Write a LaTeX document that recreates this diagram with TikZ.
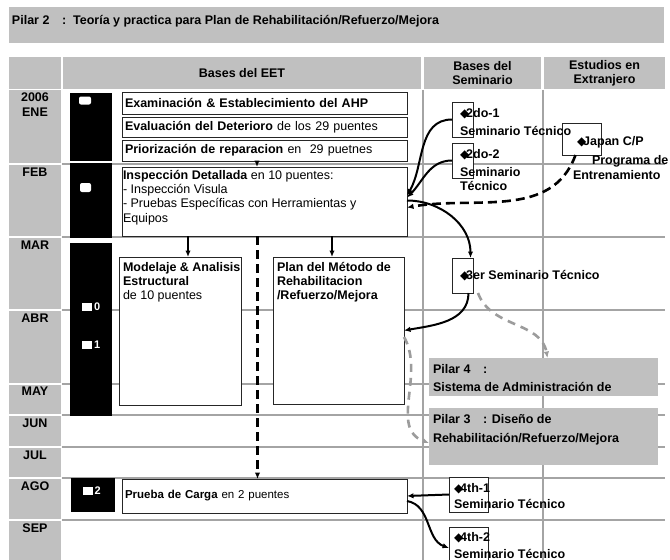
\documentclass[tikz,border=0pt]{standalone}
\usepackage{fontspec}
\setmainfont{Liberation Sans}
\newfontfamily\symfont{DejaVu Sans}
\usetikzlibrary{positioning,arrows.meta}
\definecolor{cellgray}{HTML}{C0C0C0}
\definecolor{rulegray}{HTML}{A4A4A4}
\definecolor{linkgray}{HTML}{9C9C9C}
\newcommand{\dmd}{{\symfont\fontsize{12}{12}\selectfont ◆}\kern-3pt}

\begin{document}
\begin{tikzpicture}[
        x=1pt, y=-1pt,
        every node/.style={font=\fontsize{12.5}{14.3}\selectfont, inner sep=0pt, outer sep=0pt},
        graycell/.style={fill=cellgray, anchor=north west},
        monthtxt/.style={font=\bfseries\fontsize{12.5}{15}\selectfont, align=center},
        headtxt/.style={font=\bfseries\fontsize{12.5}{14}\selectfont, align=center},
        blackbar/.style={fill=black, anchor=north west, minimum width=42pt},
        whitemark/.style={fill=white, minimum width=10pt, minimum height=8pt},
        bardigit/.style={text=white, font=\bfseries\fontsize{11}{11}\selectfont},
        eetbox/.style={draw=black!85, fill=white, line width=0.8pt, anchor=north west, text width=279pt, align=left, inner xsep=3pt},
        semibox/.style={draw=black!85, fill=white, line width=0.8pt, anchor=north west},
        semitxt/.style={font=\bfseries\fontsize{12.5}{14}\selectfont, align=left},
        rowline/.style={rulegray, line width=1.5pt},
        link/.style={line width=2pt, -{Latex[length=6.5pt,width=5.5pt]}},
        dashlink/.style={link, line width=2.6pt, dash pattern=on 9pt off 5pt},
        graylink/.style={link, linkgray, line width=2.6pt, dash pattern=on 8pt off 6pt},
    ]
        \path[use as bounding box, fill=white] (0,0) rectangle (670,560);
        \node[graycell, minimum width=655pt, minimum height=36pt] (titulo) at (9,7) {};
        \node[anchor=west, font=\bfseries\fontsize{12.5}{14}\selectfont] (titulotxt) at (12,21) {Pilar 2\quad :\ \ Teoría y practica para Plan de Rehabilitación/Refuerzo/Mejora};

        \node[graycell, minimum width=52pt, minimum height=32pt] (hmes) at (9,57) {};
        \node[graycell, headtxt, minimum width=358pt, minimum height=32pt] (heet) at (63,57) {Bases del EET};
        \node[graycell, headtxt, minimum width=117pt, minimum height=32pt] (hsem) at (424,57) {Bases del\\Seminario};
        \node[graycell, headtxt, minimum width=121pt, minimum height=32pt] (hext) at (544,57) {Estudios en\\Extranjero};

        \node[graycell, minimum width=52pt, minimum height=73pt] (ene) at (9,90) {};
        \node[monthtxt, below=3pt of ene.north] (enetxt) {2006\\ENE};
        \node[graycell, minimum width=52pt, minimum height=71pt] (feb) at (9,165) {};
        \node[monthtxt, below=3pt of feb.north] (febtxt) {FEB};
        \node[graycell, minimum width=52pt, minimum height=71pt] (mar) at (9,238) {};
        \node[monthtxt, below=3pt of mar.north] (martxt) {MAR};
        \node[graycell, minimum width=52pt, minimum height=72pt] (abr) at (9,311) {};
        \node[monthtxt, below=3pt of abr.north] (abrtxt) {ABR};
        \node[graycell, minimum width=52pt, minimum height=29pt] (may) at (9,385) {};
        \node[monthtxt, below=2pt of may.north] (maytxt) {MAY};
        \node[graycell, minimum width=52pt, minimum height=30pt] (jun) at (9,416) {};
        \node[monthtxt, below=3pt of jun.north] (juntxt) {JUN};
        \node[graycell, minimum width=52pt, minimum height=29pt] (jul) at (9,448) {};
        \node[monthtxt, below=3pt of jul.north] (jultxt) {JUL};
        \node[graycell, minimum width=52pt, minimum height=40pt] (ago) at (9,479) {};
        \node[monthtxt, below=3pt of ago.north] (agotxt) {AGO};
        \node[graycell, minimum width=52pt, minimum height=39pt] (sep) at (9,521) {};
        \node[monthtxt, below=3pt of sep.north] (septxt) {SEP};

        \draw[rowline] (62,164) -- (665,164) (62,237) -- (665,237) (62,310) -- (665,310) (62,384) -- (665,384)
            (62,415) -- (665,415) (62,447) -- (665,447) (62,478) -- (665,478) (62,520) -- (665,520);
        \draw[rowline] (423,90) -- (423,560) (543,90) -- (543,560);

        \node[blackbar, minimum height=68pt] (barene) at (70,93) {};
        \node[blackbar, minimum height=75pt] (barfeb) at (70,163) {};
        \node[blackbar, minimum height=173pt] (barmar) at (70,243) {};
        \node[blackbar, minimum width=44pt, minimum height=34pt] (barago) at (71,478) {};
        \node[whitemark, rounded corners=2pt, minimum width=12pt] (markene) at (85,100.5) {};
        \node[whitemark, rounded corners=2pt, minimum width=11pt, minimum height=9pt] (markfeb) at (85.5,187.5) {};
        \node[whitemark] (mark0) at (87,307) {};
        \node[bardigit, right=2pt of mark0] (dig0) {0};
        \node[whitemark] (mark1) at (87,345) {};
        \node[bardigit, right=2pt of mark1] (dig1) {1};
        \node[whitemark] (mark2) at (87.5,491) {};
        \node[bardigit, right=2pt of mark2] (dig2) {2};

        \node[eetbox, minimum height=22pt] (examen) at (122,92) {\textbf{Examinación \& Establecimiento del AHP}};
        \node[eetbox, minimum height=20pt] (evalua) at (122,117) {\textbf{Evaluación del Deterioro} de los 29 puentes};
        \node[eetbox, minimum height=21pt] (prioriza) at (122,140) {\textbf{Priorización de reparacion} en\ \ 29 puetnes};
        \node[eetbox, minimum height=69pt] (inspec) at (122,167) {};
        \node[align=left, below right=3pt and 1pt of inspec.north west] (inspectxt) {\textbf{Inspección Detallada} en 10 puentes:\\- Inspección Visula\\- Pruebas Específicas con Herramientas y\\Equipos};
        \node[eetbox, text width=116pt, minimum height=148pt] (modelaje) at (119,257) {};
        \node[align=left, below right=5pt and 4pt of modelaje.north west] (modelajetxt) {\textbf{Modelaje \& Analisis}\\\textbf{Estructural}\\de 10 puentes};
        \node[eetbox, text width=125pt, minimum height=147pt] (plan) at (273,257) {};
        \node[semitxt, below right=5pt and 4pt of plan.north west] (plantxt) {Plan del Método de\\Rehabilitacion\\/Refuerzo/Mejora};
        \node[eetbox, minimum height=34pt, font=\fontsize{11.5}{13}\selectfont] (prueba) at (122,479) {\textbf{Prueba de Carga} en 2 puentes};

        \node[graycell, minimum width=229pt, minimum height=38pt] (pilar4) at (429,358) {};
        \node[semitxt, below right=6pt and 4pt of pilar4.north west] (pilar4txt) {Pilar 4\quad :\\[4pt]Sistema de Administración de};
        \node[graycell, minimum width=229pt, minimum height=57pt] (pilar3) at (429,408) {};
        \node[semitxt, below right=6pt and 4pt of pilar3.north west] (pilar3txt) {Pilar 3\quad : Diseño de\\[5pt]Rehabilitación/Refuerzo/Mejora};

        \node[semibox, minimum width=39pt, minimum height=32pt] (japan) at (562,123) {};
        \node[semibox, minimum width=21pt, minimum height=35pt] (sem2a) at (452,102) {};
        \node[semibox, minimum width=21pt, minimum height=35pt] (sem2b) at (452,143) {};
        \node[semibox, minimum width=21pt, minimum height=35pt] (sem3) at (452,258) {};
        \node[semibox, minimum width=39pt, minimum height=35pt] (sem4a) at (449,477) {};
        \node[semibox, minimum width=39pt, minimum height=35pt] (sem4b) at (449,527) {};
        \node[semitxt, below right=13pt and 11pt of japan.north west] (japantxt) {\hspace*{4pt}\dmd Japan C/P\\[5pt]\hspace*{19pt}Programa de\\[1pt]Entrenamiento};
        \node[semitxt, below right=6pt and 8pt of sem2a.north west] (sem2atxt) {\dmd 2do-1\\[4pt]Seminario Técnico};
        \node[semitxt, below right=6pt and 8pt of sem2b.north west] (sem2btxt) {\dmd 2do-2\\[4pt]Seminario\\Técnico};
        \node[semitxt, below right=12pt and 8pt of sem3.north west] (sem3txt) {\dmd 3er Seminario Técnico};
        \node[semitxt, below right=6pt and 5pt of sem4a.north west] (sem4atxt) {\dmd 4th-1\\[2pt]Seminario Técnico};
        \node[semitxt, below right=5pt and 5pt of sem4b.north west] (sem4btxt) {\dmd 4th-2\\[3pt]Seminario Técnico};

        \draw[link] ([xshift=-7.5pt]prioriza.south) -- ([xshift=-7.5pt]inspec.north);
        \draw[link] ([xshift=8pt]modelaje.north |- inspec.south) -- ([xshift=8pt]modelaje.north);
        \draw[link] ([xshift=-6.5pt]plan.north |- inspec.south) -- ([xshift=-6.5pt]plan.north);
        \draw[dashlink] ([xshift=-7pt]inspec.south) -- ([xshift=-7pt]prueba.north);
        \draw[link] (sem2a.west) to[out=180, in=60] ([yshift=6pt]inspec.east);
        \draw[link] (sem2b.west) to[out=180, in=45] ([yshift=4pt]inspec.east);
        \draw[dashlink] ([xshift=-6pt]japan.south) to[out=250, in=10] ([yshift=-6pt]inspec.east);
        \draw[link] ([yshift=1pt]inspec.east) to[out=0, in=90] ([xshift=8pt]sem3.north);
        \draw[link] ([xshift=6pt]sem3.south) to[out=-90, in=10] (plan.east);
        \draw[graylink] ([xshift=5pt]sem3.south east) to[out=-70, in=100] ([xshift=4pt]pilar4.north);
        \draw[graylink] ([yshift=-6.5pt]plan.east) to[out=-60, in=160] ([yshift=-6.5pt]pilar3.west);
        \draw[link] (sem4a.west) -- (prueba.east);
        \draw[link] ([yshift=-5pt]prueba.east) to[out=-10, in=160] ([yshift=-3.5pt]sem4b.west);
    \end{tikzpicture}
\end{document}
